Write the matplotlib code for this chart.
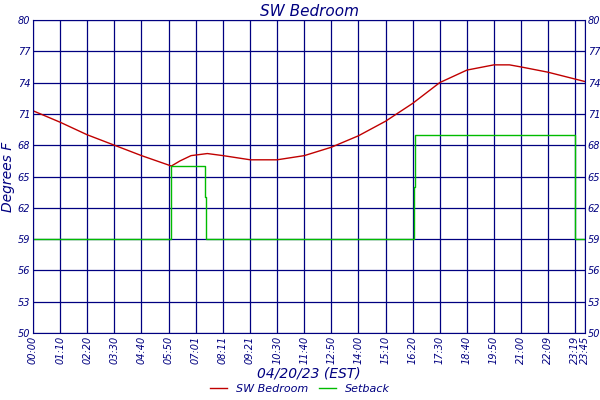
import matplotlib.pyplot as plt

# temperature readings (hours since midnight, degrees F)
temp_hours = [0, 1.17, 2.33, 3.5, 4.67, 5.83, 5.95, 6.33, 6.8, 7.5, 8.18, 9.35, 10.5, 11.67, 12.83, 14.0, 15.17, 16.33, 17.5, 18.67, 19.83, 20.5, 21.0, 22.15, 23.75]
temp_vals = [71.3, 70.2, 69.0, 68.0, 67.0, 66.1, 66.0, 66.5, 67.0, 67.2, 67.0, 66.6, 66.6, 67.0, 67.8, 68.9, 70.3, 72.0, 74.0, 75.2, 75.7, 75.7, 75.5, 75.0, 74.1]

# setback schedule (step)
set_hours = [0, 5.92, 7.42, 7.45, 16.38, 16.42, 23.3, 23.75]
set_vals = [59, 66, 63, 59, 64, 69, 59, 59]

tick_hours = [i * 70 / 60 for i in range(21)] + [23.75]
tick_labels = ['00:00', '01:10', '02:20', '03:30', '04:40', '05:50', '07:01', '08:11', '09:21', '10:30',
               '11:40', '12:50', '14:00', '15:10', '16:20', '17:30', '18:40', '19:50', '21:00', '22:09',
               '23:19', '23:45']
y_ticks = [50, 53, 56, 59, 62, 65, 68, 71, 74, 77, 80]

navy = '#000080'
font = {'family': 'DejaVu Sans', 'style': 'italic', 'color': navy}

fig = plt.figure(figsize=(6, 4), dpi=100)
ax = fig.add_axes([0.055, 0.1675, 0.92, 0.7825])
ax.plot(temp_hours, temp_vals, color='#c00000', lw=1.0, label='SW Bedroom')
ax.step(set_hours, set_vals, where='post', color='#00bb00', lw=1.0, label='Setback')

ax.set_xlim(0, 23.75)
ax.set_ylim(50, 80)
ax.set_xticks(tick_hours)
ax.set_xticklabels(tick_labels, rotation=90, fontsize=7, style='italic', color=navy)
ax.set_yticks(y_ticks)
ax.set_yticklabels(y_ticks, fontsize=7, style='italic', color=navy)
ax.tick_params(axis='both', length=0, pad=2)
ax.tick_params(axis='y', labelright=True)
ax.grid(True, color=navy, lw=0.9)
for s in ax.spines.values():
    s.set_color(navy)

ax.set_title('SW Bedroom', fontdict=dict(font, size=11), pad=3)
ax.set_ylabel('Degrees F', fontdict=dict(font, size=10), labelpad=2)
ax.set_xlabel('04/20/23 (EST)', fontdict=dict(font, size=10), labelpad=2)
leg = fig.legend(loc='lower center', ncol=2, frameon=False, fontsize=8,
                 bbox_to_anchor=(0.5, -0.01), handlelength=1.5, columnspacing=1)
for t in leg.get_texts():
    t.set_color(navy)
    t.set_style('italic')

fig.savefig('out.png')
